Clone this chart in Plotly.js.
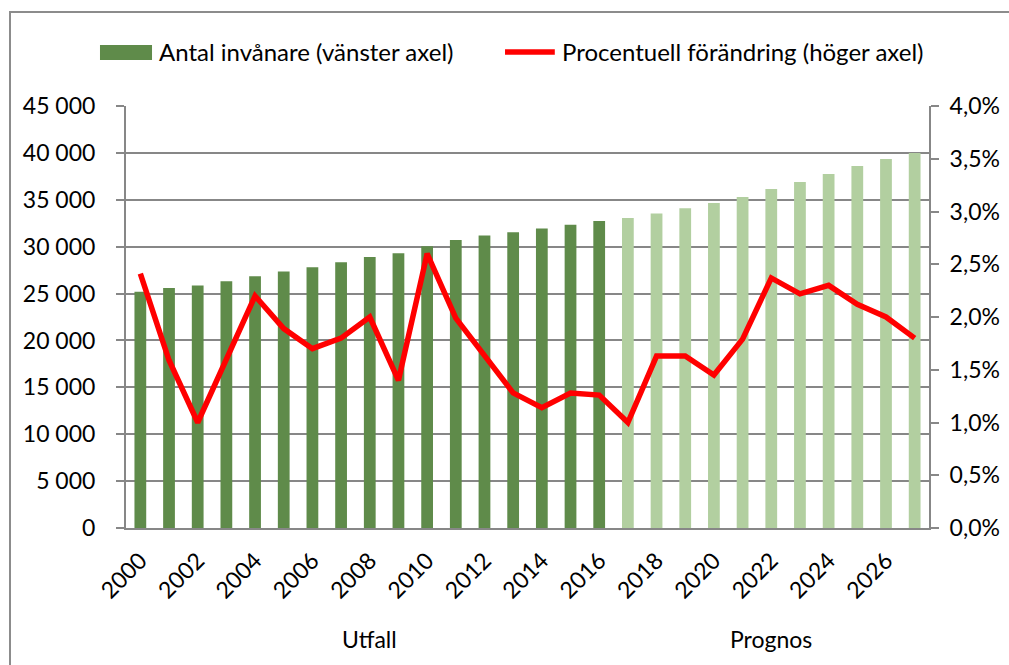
<!DOCTYPE html>
<html>
<head>
<meta charset="utf-8">
<script src="https://cdn.plot.ly/plotly-3.0.1.min.js"></script>
<style>
html,body{margin:0;padding:0;background:#fff;overflow:hidden;}
#chart{position:absolute;left:0;top:0;width:1009px;height:665px;}
#frame{position:absolute;left:9px;top:11px;width:1100px;height:700px;border:2px solid #8c8c8c;pointer-events:none;box-sizing:border-box;}
</style>
</head>
<body>
<div id="chart"></div>
<div id="frame"></div>
<script>
const years = [2000,2001,2002,2003,2004,2005,2006,2007,2008,2009,2010,2011,2012,2013,2014,2015,2016,2017,2018,2019,2020,2021,2022,2023,2024,2025,2026,2027];
const population = [25200,25600,25850,26300,26850,27350,27800,28350,28900,29300,30050,30700,31200,31550,31950,32350,32750,33050,33550,34100,34650,35300,36150,36900,37750,38600,39350,40000];
const changePct = [2.41,1.59,1.00,1.60,2.20,1.89,1.70,1.80,2.00,1.40,2.60,1.99,1.63,1.28,1.14,1.28,1.26,1.00,1.63,1.63,1.45,1.79,2.37,2.22,2.30,2.12,2.00,1.80];
const lastOutcomeYear = 2016;
const barName = 'Antal invånare (vänster axel)';
const lineName = 'Procentuell förändring (höger axel)';
const periodLabels = ['Utfall','Prognos'];

const darkGreen = '#5f8b4a';
const lightGreen = '#b2cfa0';
const red = '#ff0000';
const axisGray = '#878787';
const barColors = years.map(y => y <= lastOutcomeYear ? darkGreen : lightGreen);

const outcomeYears = years.filter(y => y <= lastOutcomeYear);
const forecastYears = years.filter(y => y > lastOutcomeYear);
const mid = arr => (arr[0] + arr[arr.length-1]) / 2;

const fam = 'Lato, "Open Sans", sans-serif';
const tickFont = {family: fam, size: 23, color: '#000'};
const legFont = {family: fam, size: 24, color: '#000'};

const traces = [
  {type:'bar', x: years, y: population, name: barName, marker:{color: barColors, line:{width:0}}, yaxis:'y', showlegend:false},
  {type:'scatter', mode:'lines', x: years, y: changePct, name: lineName, line:{color: red, width:5.5}, yaxis:'y2', showlegend:false}
];

const legY = 1.128;
const layout = {
  width: 1009, height: 665,
  margin: {l:126, r:80, t:106, b:137},
  paper_bgcolor:'#fff', plot_bgcolor:'#fff',
  font: tickFont,
  separators: ', ',
  bargap: 0.59,
  showlegend: false,
  xaxis: {
    range:[1999.5, 2027.5], tick0:2000, dtick:2, tickangle:-45, showgrid:false, zeroline:false,
    showline:true, linecolor: axisGray, linewidth:2, ticks:'outside', ticklen:8,
    tickcolor:'rgba(0,0,0,0)', tickfont: tickFont, fixedrange:true
  },
  yaxis: {
    range:[0,45000], dtick:5000, tickformat:',d', showgrid:true, gridcolor: axisGray, gridwidth:2,
    zeroline:false, showline:true, linecolor: axisGray, linewidth:2, ticks:'outside', ticklen:8,
    tickcolor: axisGray, tickwidth:2, tickfont: tickFont, ticklabelstandoff: 16
  },
  yaxis2: {
    overlaying:'y', side:'right', range:[0,4], dtick:0.5, tickformat:'.1f', ticksuffix:'%',
    showgrid:false, zeroline:false, showline:true, linecolor: axisGray, linewidth:2, ticks:'outside',
    ticklen:8, tickcolor: axisGray, tickwidth:2, tickfont: tickFont, ticklabelstandoff: 6
  },
  shapes: [
    {type:'rect', xref:'paper', yref:'paper', x0:-0.0324, x1:0.0324, y0:1.109, y1:1.1445, fillcolor: darkGreen, line:{width:0}},
    {type:'line', xref:'paper', yref:'paper', x0:0.472, x1:0.534, y0:legY, y1:legY, line:{color: red, width:5.5}}
  ],
  annotations: [
    {x: 0.039, y: legY, xref:'paper', yref:'paper', xanchor:'left', yanchor:'middle', text: barName, showarrow:false, font: legFont},
    {x: 0.541, y: legY, xref:'paper', yref:'paper', xanchor:'left', yanchor:'middle', text: lineName, showarrow:false, font: legFont},
    {x: mid(outcomeYears), y: -0.301, xref:'x', yref:'paper', text: periodLabels[0], showarrow:false, font: tickFont},
    {x: mid(forecastYears), y: -0.301, xref:'x', yref:'paper', text: periodLabels[1], showarrow:false, font: tickFont}
  ]
};

Plotly.newPlot('chart', traces, layout, {displayModeBar:false, staticPlot:true});
</script>
</body>
</html>
